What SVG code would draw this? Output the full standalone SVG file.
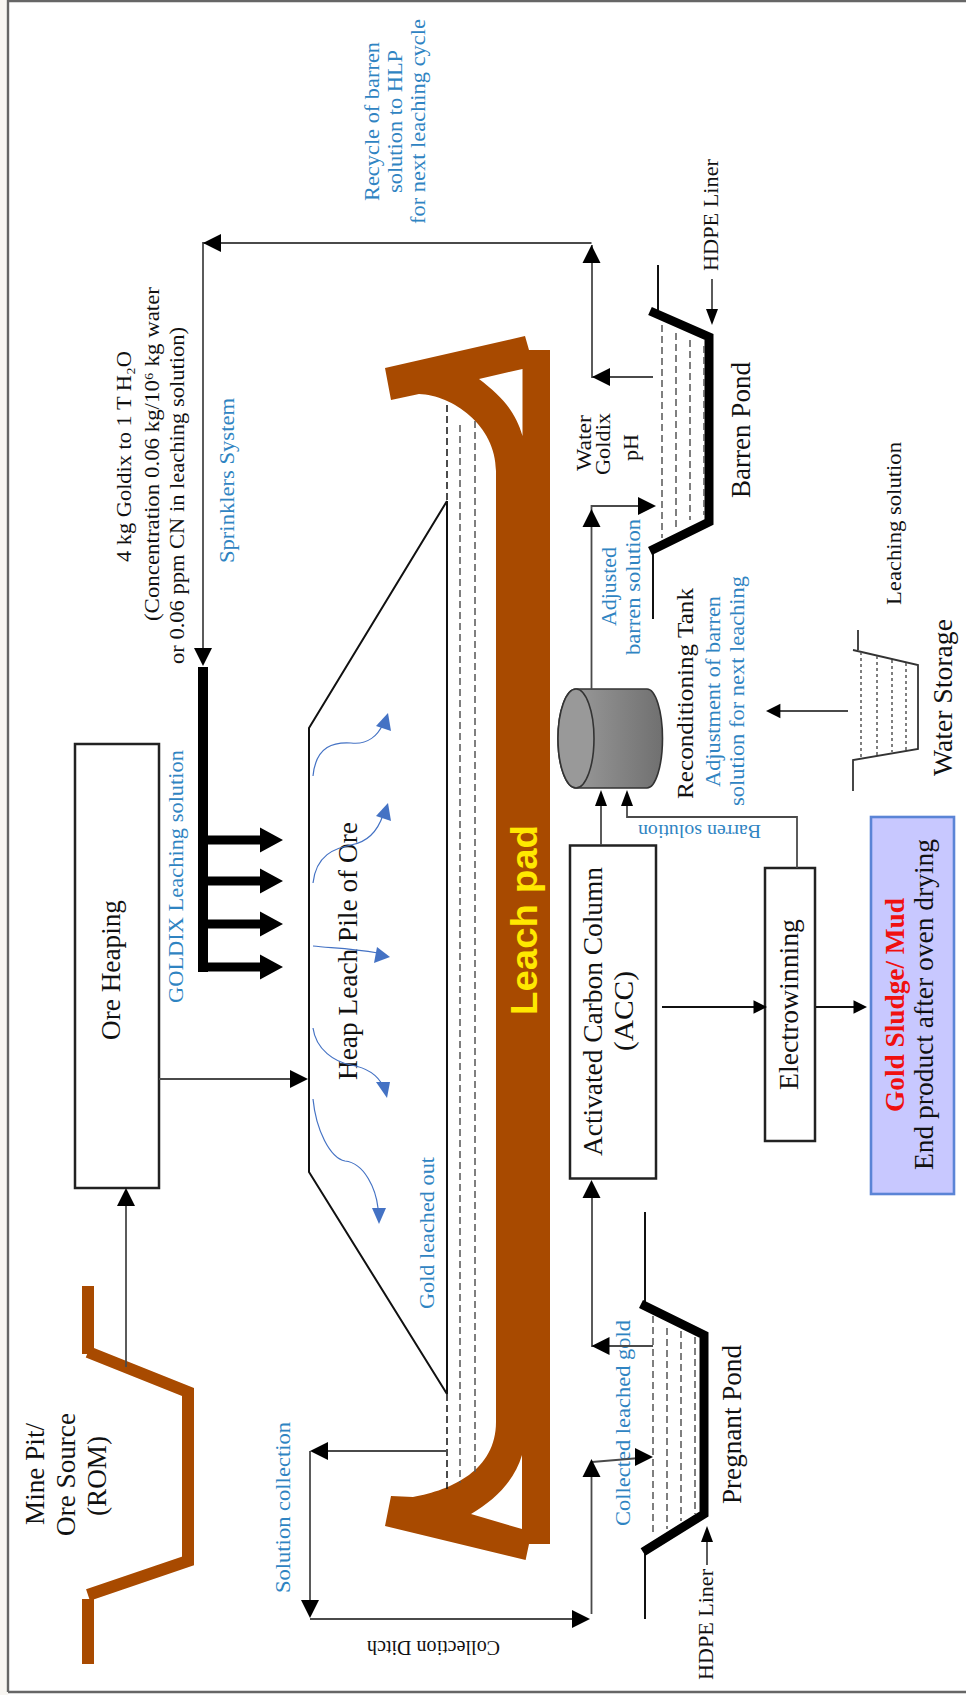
<svg xmlns="http://www.w3.org/2000/svg" width="966" height="1695" viewBox="0 0 966 1695">
<style>
text{font-family:"Liberation Serif","Times New Roman",serif;fill:#111}
.b{fill:#2f84c2}
.s20{font-size:20px}.s22{font-size:22px}.s24{font-size:24px}.s27{font-size:27px}.s28{font-size:28px}
.ln{fill:none;stroke:#4a4a4a;stroke-width:1.8}
.bk{fill:none;stroke:#111;stroke-width:2}
.th{fill:none;stroke:#000;stroke-width:9;stroke-linejoin:miter}
.ds{fill:none;stroke:#555;stroke-width:1.5;stroke-dasharray:7 4}
.dk{fill:none;stroke:#111;stroke-width:1.5;stroke-dasharray:7 4}
.box{fill:#fff;stroke:#222;stroke-width:2.5}
.mine{fill:none;stroke:#a84a00;stroke-width:12;stroke-linejoin:miter}
.cv{fill:none;stroke:#4472c4;stroke-width:1.2}
.bh{fill:#4472c4}
</style>
<defs>
<linearGradient id="cyl" x1="0" x2="1" y1="0" y2="0"><stop offset="0" stop-color="#a0a0a0"/><stop offset="1" stop-color="#707070"/></linearGradient>
<polygon id="aU" points="0,0 -9,18 9,18"/>
<polygon id="aD" points="0,0 -9,-18 9,-18"/>
<polygon id="aL" points="0,0 18,-9 18,9"/>
<polygon id="aR" points="0,0 -18,-9 -18,9"/>
<polygon id="bU" points="0,0 -6,16 6,16"/>
</defs>

<rect x="0" y="0" width="8" height="1695" fill="#f8f6f2"/>
<path id="frame" d="M8,1692V1H966M8,1692H966" fill="none" stroke="#666" stroke-width="2.4"/>

<g id="leach-pad">
<path fill="#a84a00" fill-rule="evenodd" d="M385,368L525,336L529,350H550V1544H529L525.6,1560L385,1526L391,1496L413,1497C452,1490 496,1470 496,1422V471C496,425 452,395 419,394L391,400Z M479,379L522.5,369V436C515,410 500,395 479,379Z M522,1455V1529L471,1514C495,1500 515,1480 522,1455Z"/>
<text x="537" y="1015" font-size="36" textLength="190" lengthAdjust="spacingAndGlyphs" transform="rotate(-90 537 1015)" style="font-family:'Liberation Sans',Arial,sans-serif;font-weight:bold;fill:#ffe800">Leach pad</text>
</g>

<g id="heap-pile">
<path class="bk" d="M447,501L309,728V1172L447,1394"/>
<path class="bk" d="M447,501V1394"/>
<path class="dk" d="M447,405V501M447,1394V1493"/>
<path class="ds" d="M460,425V1483M475,421V1472"/>
<text class="s27" x="357" y="1080" textLength="258" lengthAdjust="spacingAndGlyphs" transform="rotate(-90 357 1080)">Heap Leach Pile of Ore</text>
<text class="s22 b" x="434" y="1309" textLength="152" lengthAdjust="spacingAndGlyphs" transform="rotate(-90 434 1309)">Gold leached out</text>
</g>

<g id="gold-flows">
<path class="cv" d="M313,776C316,745 335,742 351,743C368,745 378,735 383,724"/>
<path class="cv" d="M313,883C316,855 335,848 351,845C368,842 378,830 383,815"/>
<path class="cv" d="M313,946C330,948 350,948 378,953"/>
<path class="cv" d="M313,1028C316,1050 335,1062 351,1065C368,1068 378,1076 383,1086"/>
<path class="cv" d="M313,1099C316,1130 330,1158 345,1161C365,1163 376,1190 378,1208"/>
<polygon class="bh" points="388,713 391,731 376,726"/>
<polygon class="bh" points="388,803 391,821 376,816"/>
<polygon class="bh" points="390,957 374,963 377,947"/>
<polygon class="bh" points="387,1098 376,1082 390,1082"/>
<polygon class="bh" points="379,1224 372,1208 386,1208"/>
</g>

<g id="mine-pit">
<path class="mine" d="M88,1286V1354"/>
<path class="mine" d="M88,1352L188,1392V1561L88,1595"/>
<path class="mine" d="M88,1599V1664"/>
<text class="s27" x="44" y="1525" textLength="102" lengthAdjust="spacingAndGlyphs" transform="rotate(-90 44 1525)">Mine Pit/</text>
<text class="s27" x="75" y="1536" textLength="123" lengthAdjust="spacingAndGlyphs" transform="rotate(-90 75 1536)">Ore Source</text>
<text class="s27" x="106" y="1516" textLength="80" lengthAdjust="spacingAndGlyphs" transform="rotate(-90 106 1516)">(ROM)</text>
</g>

<g id="ore-heaping">
<rect class="box" x="75" y="744" width="84" height="444"/>
<text class="s27" x="120" y="1040" textLength="140" lengthAdjust="spacingAndGlyphs" transform="rotate(-90 120 1040)">Ore Heaping</text>
</g>

<g id="sprinklers">
<rect x="198" y="667" width="10" height="305" fill="#000"/>
<g fill="#000">
<polygon points="203,835.5 260,835.5 260,827.5 283,840 260,852.5 260,844.5 203,844.5"/>
<polygon points="203,876.5 260,876.5 260,868.5 283,881 260,893.5 260,885.5 203,885.5"/>
<polygon points="203,919.5 260,919.5 260,911.5 283,924 260,936.5 260,928.5 203,928.5"/>
<polygon points="203,962.5 260,962.5 260,954.5 283,967 260,979.5 260,971.5 203,971.5"/>
</g>
<text class="s22 b" x="183" y="1003" textLength="253" lengthAdjust="spacingAndGlyphs" transform="rotate(-90 183 1003)">GOLDIX Leaching solution</text>
<text class="s22 b" x="234" y="563" textLength="165" lengthAdjust="spacingAndGlyphs" transform="rotate(-90 234 563)">Sprinklers System</text>
</g>

<g id="goldix-note">
<text class="s22" x="131" y="562" textLength="211" lengthAdjust="spacingAndGlyphs" transform="rotate(-90 131 562)">4 kg Goldix to 1 T H₂O</text>
<text class="s22" x="159" y="621" textLength="334" lengthAdjust="spacingAndGlyphs" transform="rotate(-90 159 621)">(Concentration 0.06 kg/10⁶ kg water</text>
<text class="s22" x="184" y="664" textLength="337" lengthAdjust="spacingAndGlyphs" transform="rotate(-90 184 664)">or 0.06 ppm CN in leaching solution)</text>
</g>

<g id="recycle-label">
<text class="s22 b" x="379" y="201" textLength="159" lengthAdjust="spacingAndGlyphs" transform="rotate(-90 379 201)">Recycle of barren</text>
<text class="s22 b" x="402" y="193" textLength="143" lengthAdjust="spacingAndGlyphs" transform="rotate(-90 402 193)">solution to HLP</text>
<text class="s22 b" x="425" y="224" textLength="205" lengthAdjust="spacingAndGlyphs" transform="rotate(-90 425 224)">for next leaching cycle</text>
</g>

<g id="barren-pond">
<path class="bk" d="M658,265V310M653,551V619"/>
<path class="th" d="M650,311L709,337V522L650,551"/>
<path class="ds" d="M662,325V538M676,333V528M690,340V520M704,346V515"/>
<text class="s27" x="750" y="498" textLength="136" lengthAdjust="spacingAndGlyphs" transform="rotate(-90 750 498)">Barren Pond</text>
<text class="s22" x="718" y="271" textLength="112" lengthAdjust="spacingAndGlyphs" transform="rotate(-90 718 271)">HDPE Liner</text>
<text class="s22" x="591" y="471" textLength="56" lengthAdjust="spacingAndGlyphs" transform="rotate(-90 591 471)">Water</text>
<text class="s22" x="610" y="475" textLength="62" lengthAdjust="spacingAndGlyphs" transform="rotate(-90 610 475)">Goldix</text>
<text class="s22" x="638" y="461" textLength="27" lengthAdjust="spacingAndGlyphs" transform="rotate(-90 638 461)">pH</text>
<text class="s22 b" x="616" y="626" textLength="79" lengthAdjust="spacingAndGlyphs" transform="rotate(-90 616 626)">Adjusted</text>
<text class="s22 b" x="640" y="655" textLength="136" lengthAdjust="spacingAndGlyphs" transform="rotate(-90 640 655)">barren solution</text>
</g>

<g id="reconditioning-tank">
<path d="M576,689H647A15.5,49.5 0 0 1 647,788H576C566,788 558,766 558,738.5C558,711 566,689 576,689Z" fill="url(#cyl)" stroke="#333" stroke-width="1.6"/>
<ellipse cx="576" cy="738.5" rx="18" ry="49.5" fill="#999" stroke="#333" stroke-width="1.6"/>
<text class="s24" x="693" y="799" textLength="211" lengthAdjust="spacingAndGlyphs" transform="rotate(-90 693 799)">Reconditioning Tank</text>
<text class="s22 b" x="720" y="787" textLength="191" lengthAdjust="spacingAndGlyphs" transform="rotate(-90 720 787)">Adjustment of barren</text>
<text class="s22 b" x="744" y="806" textLength="230" lengthAdjust="spacingAndGlyphs" transform="rotate(-90 744 806)">solution for next leaching</text>
</g>

<g id="water-storage">
<path fill="none" stroke="#333" stroke-width="1.8" d="M858,630V650M853,650L918,665V749L853,760V791"/>
<path class="ds" d="M861,652V757M877,656V755M892,660V752M906,663V750" style="stroke-dasharray:3 3"/>
<text class="s27" x="952" y="776" textLength="157" lengthAdjust="spacingAndGlyphs" transform="rotate(-90 952 776)">Water Storage</text>
<text class="s22" x="901" y="605" textLength="163" lengthAdjust="spacingAndGlyphs" transform="rotate(-90 901 605)">Leaching solution</text>
</g>

<g id="acc">
<rect class="box" x="570" y="845.5" width="86" height="333"/>
<text class="s28" x="602" y="1156" textLength="289" lengthAdjust="spacingAndGlyphs" transform="rotate(-90 602 1156)">Activated Carbon Column</text>
<text class="s28" x="633" y="1051" textLength="80" lengthAdjust="spacingAndGlyphs" transform="rotate(-90 633 1051)">(ACC)</text>
</g>

<g id="electrowinning">
<rect class="box" x="765" y="868" width="50" height="273"/>
<text class="s27" x="798" y="1090" textLength="171" lengthAdjust="spacingAndGlyphs" transform="rotate(-90 798 1090)">Electrowinning</text>
</g>

<g id="gold-sludge">
<rect x="871" y="817" width="83" height="377" fill="#c8c8ff" stroke="#5b84d6" stroke-width="2.6"/>
<text class="s27" x="904" y="1112" textLength="214" lengthAdjust="spacingAndGlyphs" transform="rotate(-90 904 1112)" style="font-weight:bold;fill:#f01010">Gold Sludge/ Mud</text>
<text class="s27" x="933" y="1170" textLength="331" lengthAdjust="spacingAndGlyphs" transform="rotate(-90 933 1170)">End product after oven drying</text>
</g>

<g id="pregnant-pond">
<path class="bk" d="M645,1212V1305M645,1553V1619"/>
<path class="th" d="M641,1304L704,1335V1514L643,1552"/>
<path class="ds" d="M653,1316V1536M667,1328V1529M681,1331V1521M695,1337V1514"/>
<text class="s27" x="741" y="1504" textLength="159" lengthAdjust="spacingAndGlyphs" transform="rotate(-90 741 1504)">Pregnant Pond</text>
<text class="s22" x="713" y="1680" textLength="111" lengthAdjust="spacingAndGlyphs" transform="rotate(-90 713 1680)">HDPE Liner</text>
<text class="s22 b" x="630" y="1526" textLength="206" lengthAdjust="spacingAndGlyphs" transform="rotate(-90 630 1526)">Collected leached gold</text>
</g>

<g id="connectors">
<path class="ln" d="M653,377H592V245M591.5,243H203V650M591.5,689V506H640"/>
<path class="ln" d="M712,279V312M601,845V805M797,868V817H627V805M848,711H780"/>
<path class="ln" d="M126,1367V1205M159,1079H295"/>
<path class="bk" d="M662,1007H755M816,1007H855"/>
<path class="ln" d="M653,1346H592V1195M447,1451H325M310,1451V1605M310,1619H575M591.5,1614V1475M592,1462L640,1458"/>
<path class="ln" d="M707,1565V1540"/>
<use href="#aL" x="203" y="243"/>
<use href="#aU" x="591.5" y="245"/>
<use href="#aL" x="592" y="377"/>
<use href="#aD" x="203" y="666"/>
<use href="#aU" x="591.5" y="509"/>
<use href="#aR" x="656" y="506"/>
<use href="#bU" transform="translate(712,325) rotate(180)"/>
<use href="#bU" x="601" y="790"/>
<use href="#bU" x="627" y="790"/>
<use href="#aL" transform="translate(766 711) scale(.8)"/>
<use href="#aR" transform="translate(767 1007) scale(.75)"/>
<use href="#aR" transform="translate(867 1007) scale(.75)"/>
<use href="#aU" x="126" y="1188"/>
<use href="#aR" x="308" y="1079"/>
<use href="#aL" x="591.5" y="1346"/>
<use href="#aU" x="591.5" y="1180"/>
<use href="#aL" x="310" y="1451"/>
<use href="#aD" x="310" y="1618"/>
<use href="#aR" x="590" y="1619"/>
<use href="#aU" x="591.5" y="1459"/>
<use href="#aR" x="653" y="1457"/>
<use href="#bU" x="707" y="1526"/>
<text class="s22 b" x="290" y="1593" textLength="171" lengthAdjust="spacingAndGlyphs" transform="rotate(-90 290 1593)">Solution collection</text>
<text class="b" font-size="18" x="761" y="825" textLength="123" lengthAdjust="spacingAndGlyphs" transform="rotate(180 761 825)">Barren solution</text>
<text class="s20" x="500" y="1641" textLength="133" lengthAdjust="spacingAndGlyphs" transform="rotate(180 500 1641)">Collection Ditch</text>
</g>
</svg>
